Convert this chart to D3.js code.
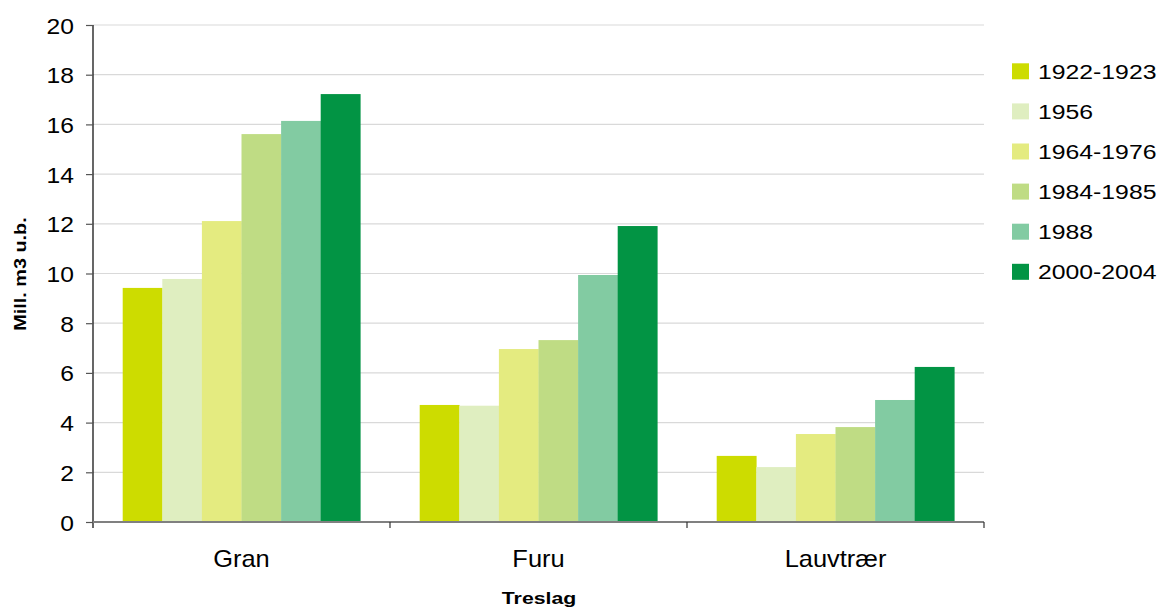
<!DOCTYPE html>
<html>
<head>
<meta charset="utf-8">
<script src="https://cdn.jsdelivr.net/npm/d3@7"></script>
<style>
  html, body { margin: 0; padding: 0; background: #fff; }
  svg { display: block; font-family: "Liberation Sans", Arial, sans-serif; }
</style>
</head>
<body>
<svg id="chart" width="1163" height="610"></svg>
<script>
const categories = ["Gran", "Furu", "Lauvtrær"];
const seriesNames = ["1922-1923", "1956", "1964-1976", "1984-1985", "1988", "2000-2004"];
const seriesColors = ["#cddc00", "#dfeec0", "#e4eb80", "#bfdc84", "#82cba2", "#029444"];
const values1922 = [9.42, 4.71, 2.66];
const values1956 = [9.78, 4.68, 2.21];
const values1964 = [12.11, 6.96, 3.54];
const values1984 = [15.61, 7.32, 3.82];
const values1988 = [16.14, 9.94, 4.91];
const values2000 = [17.22, 11.91, 6.24];
const yTicks = [0, 2, 4, 6, 8, 10, 12, 14, 16, 18, 20];
const yTitle = "Mill. m3 u.b.";
const xTitle = "Treslag";

const seriesValues = [values1922, values1956, values1964, values1984, values1988, values2000];

const svg = d3.select("#chart");
const mLeft = 93, mRight = 984, mTop = 25, mBottom = 522;

const x0 = d3.scaleBand().domain(categories).range([mLeft, mRight]).paddingInner(0.2).paddingOuter(0.1);
const x1 = d3.scaleBand().domain(seriesNames).range([0, x0.bandwidth()]).padding(0);
const y = d3.scaleLinear().domain([0, 20]).range([mBottom, mTop]);

// gridlines
svg.append("g").selectAll("line").data(yTicks.filter(d => d > 0)).join("line")
  .attr("x1", mLeft).attr("x2", mRight)
  .attr("y1", d => y(d)).attr("y2", d => y(d))
  .attr("stroke", "#d9d9d9").attr("stroke-width", 1.2);

// bars
const groups = svg.append("g").selectAll("g").data(categories).join("g")
  .attr("transform", d => `translate(${x0(d)},0)`);
groups.selectAll("rect")
  .data((c, ci) => seriesNames.map((s, si) => ({ s, si, v: seriesValues[si][ci] })))
  .join("rect")
  .attr("x", d => x1(d.s))
  .attr("width", x1.bandwidth() + 0.3)
  .attr("y", d => y(d.v))
  .attr("height", d => y(0) - y(d.v))
  .attr("fill", d => seriesColors[d.si]);

// y axis
const yAxis = svg.append("g").attr("transform", `translate(${mLeft},0)`)
  .call(d3.axisLeft(y).tickValues(yTicks).tickSize(7).tickPadding(0));
yAxis.select(".domain").attr("stroke", "#000").attr("stroke-width", 1.2).attr("d", `M0,${mTop}V${mBottom + 6}`);
yAxis.selectAll(".tick line").attr("stroke", "#555").attr("stroke-width", 1.2);
yAxis.selectAll(".tick text")
  .attr("x", null).attr("dy", null)
  .attr("transform", "translate(-19,8) scale(1.12,1)")
  .attr("font-size", 22).attr("fill", "#000")
  .attr("font-family", "'Liberation Sans', Arial, sans-serif");

// x axis
const boundaries = categories.map(c => x0(c) - x0.step() * x0.paddingInner() / 2);
const xAxis = svg.append("g").attr("transform", `translate(0,${mBottom})`);
xAxis.append("line").attr("x1", mLeft).attr("x2", mRight).attr("y1", 0).attr("y2", 0)
  .attr("stroke", "#808080").attr("stroke-width", 2);
xAxis.selectAll("line.tk").data(boundaries.slice(1).concat([mRight])).join("line")
  .attr("class", "tk")
  .attr("x1", d => d).attr("x2", d => d).attr("y1", 0).attr("y2", 6)
  .attr("stroke", "#333").attr("stroke-width", 1.2);
xAxis.selectAll("text").data(categories).join("text")
  .attr("transform", d => `translate(${x0(d) + x0.bandwidth() / 2},45) scale(1.06,1)`)
  .attr("text-anchor", "middle").attr("font-size", 24).attr("fill", "#000")
  .text(d => d);

// axis titles
svg.append("text")
  .attr("transform", "translate(26,274) rotate(-90) scale(1.2,1)")
  .attr("text-anchor", "middle").attr("font-size", 16.5).attr("font-weight", "bold")
  .attr("fill", "#000").text(yTitle);
svg.append("text")
  .attr("transform", "translate(539,604) scale(1.25,1)")
  .attr("text-anchor", "middle").attr("font-size", 17).attr("font-weight", "bold")
  .attr("fill", "#000").text(xTitle);

// legend
const legend = svg.append("g").selectAll("g").data(seriesNames).join("g")
  .attr("transform", (d, i) => `translate(1012,${71.3 + i * 40.1})`);
legend.append("rect").attr("x", 0).attr("y", -8).attr("width", 17).attr("height", 16)
  .attr("fill", (d, i) => seriesColors[i]);
legend.append("text")
  .attr("transform", "translate(26,7.5) scale(1.18,1)")
  .attr("font-size", 21).attr("fill", "#000").text(d => d);
</script>
</body>
</html>
